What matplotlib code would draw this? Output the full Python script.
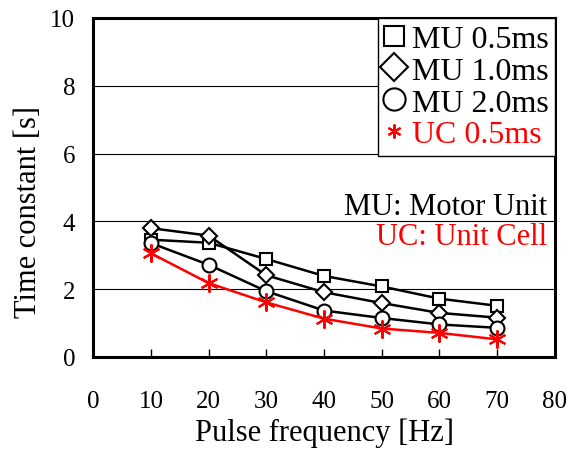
import matplotlib
matplotlib.use("Agg")
import matplotlib.pyplot as plt
from matplotlib.lines import Line2D

# Data
freq = [10, 20, 30, 40, 50, 60, 70]
mu_05 = [3.46, 3.37, 2.89, 2.39, 2.08, 1.72, 1.51]
mu_10 = [3.80, 3.58, 2.41, 1.91, 1.59, 1.30, 1.16]
mu_20 = [3.36, 2.72, 1.94, 1.37, 1.15, 0.96, 0.86]
uc_05 = [3.06, 2.18, 1.61, 1.13, 0.84, 0.71, 0.52]

series_labels = ["MU 0.5ms", "MU 1.0ms", "MU 2.0ms", "UC 0.5ms"]
x_ticks = [0, 10, 20, 30, 40, 50, 60, 70, 80]
y_ticks = [0, 2, 4, 6, 8, 10]

plt.rcParams['font.family'] = ['Liberation Serif', 'DejaVu Serif']
STAR = (6, 2, 0)


def main():
    fig = plt.figure(figsize=(5.68, 4.52), dpi=100)
    ax = fig.add_axes([0.164, 0.208, 0.813, 0.750])

    # gridlines only for y
    ax.set_axisbelow(True)
    ax.grid(axis='y', color='black', linewidth=0.8)

    styles = [
        dict(marker='s', ms=9, color='black', mfc='white', mec='black'),
        dict(marker='D', ms=8.5, color='black', mfc='white', mec='black'),
        dict(marker='o', ms=10, color='black', mfc='white', mec='black'),
        dict(marker=STAR, ms=13, color='red', mfc='red', mec='red'),
    ]
    data = [mu_05, mu_10, mu_20, uc_05]
    for vals, st in zip(data, styles):
        ax.plot(freq, vals, linewidth=1.8, mew=1.5, clip_on=False, **st)

    ax.set_xlim(0, 80)
    ax.set_ylim(0, 10)
    ax.set_xticks(x_ticks)
    ax.set_yticks(y_ticks)
    ax.tick_params(axis='x', direction='in', length=6, width=1, pad=24, labelsize=18)
    ax.tick_params(axis='y', length=0, pad=13, labelsize=18)
    for sp in ax.spines.values():
        sp.set_linewidth(2.2)

    ax.set_xlabel('Pulse frequency [Hz]', fontsize=22, labelpad=4)
    ax.set_ylabel('Time constant [s]', fontsize=22)
    ax.yaxis.set_label_coords(-0.108, 0.43)

    # legend with marker-only handles
    leg_sizes = [15, 14, 16, 10]
    handles = [Line2D([], [], linestyle='none', mew=1.5, **dict(st, ms=s))
               for st, s in zip(styles, leg_sizes)]
    leg = ax.legend(handles, series_labels, loc='upper right', fontsize=23,
                    frameon=True, fancybox=False, framealpha=1, edgecolor='black',
                    borderaxespad=0, handlelength=0.6, handletextpad=0.25,
                    labelspacing=0.08, borderpad=0.2,
                    labelcolor=['black', 'black', 'black', 'red'])
    leg.get_frame().set_linewidth(1.0)

    ax.text(0.983, 0.423, 'MU: Motor Unit', transform=ax.transAxes,
            ha='right', va='baseline', fontsize=22, color='black')
    ax.text(0.983, 0.334, 'UC: Unit Cell', transform=ax.transAxes,
            ha='right', va='baseline', fontsize=22, color='red')

    fig.savefig('out.png', dpi=100)


if __name__ == '__main__':
    main()
